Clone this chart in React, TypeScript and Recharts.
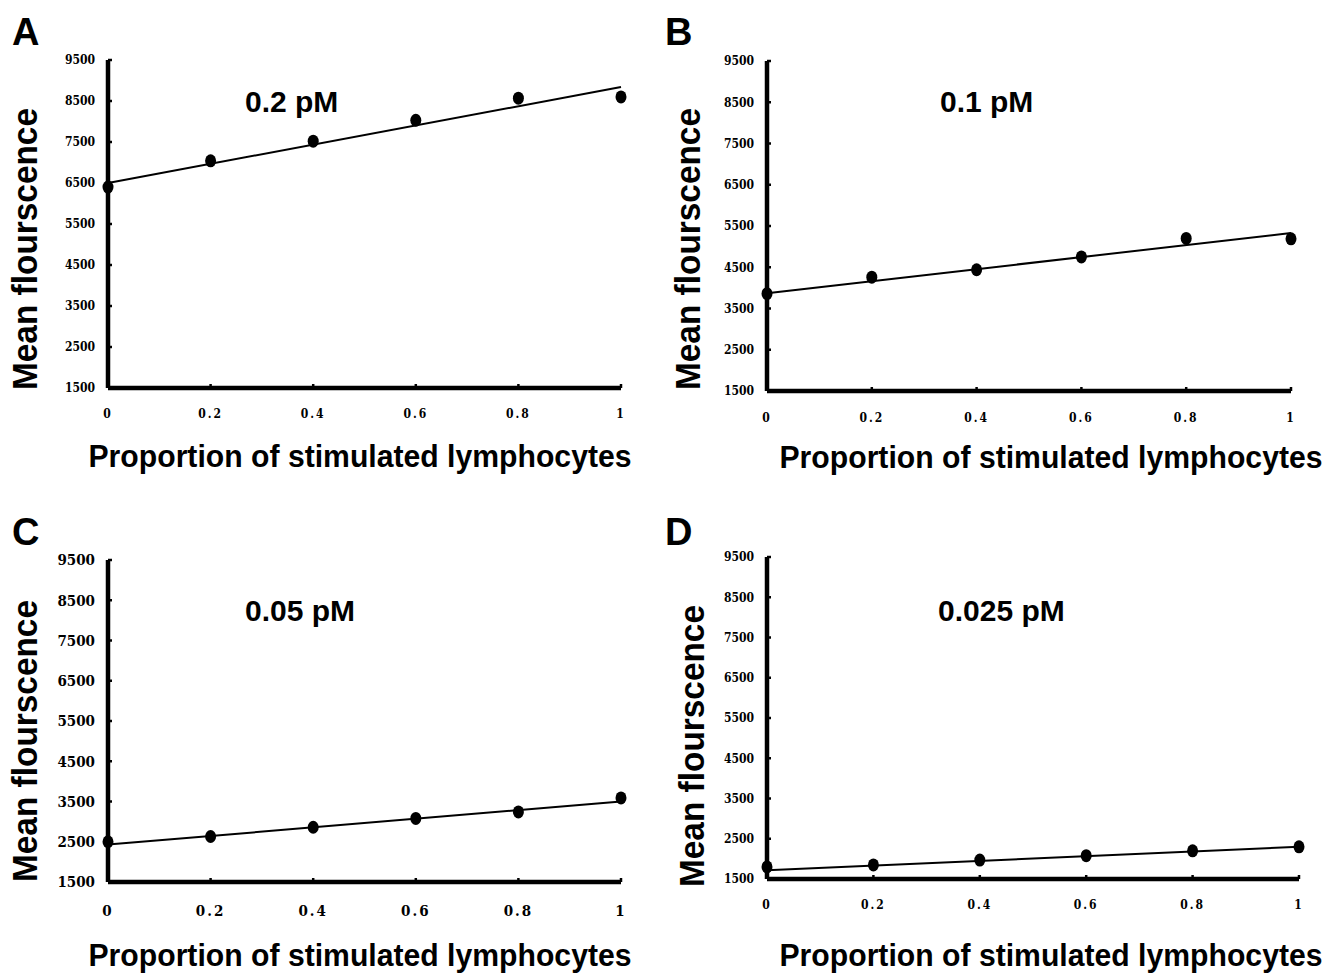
import React from 'react'
import { ComposedChart, XAxis, YAxis, Scatter, Line } from 'recharts'

// proportion of stimulated lymphocytes
const xValues = [0, 0.2, 0.4, 0.6, 0.8, 1]
const xTicks = [0, 0.2, 0.4, 0.6, 0.8, 1]
const yTicks = [1500, 2500, 3500, 4500, 5500, 6500, 7500, 8500, 9500]

// mean fluorescence
const series02 = [6400, 7040, 7520, 8030, 8570, 8600]
const series01 = [3860, 4260, 4440, 4750, 5200, 5190]
const series005 = [2500, 2630, 2860, 3080, 3240, 3590]
const series0025 = [1800, 1850, 1970, 2080, 2200, 2300]

// fitted line end values (at x = 0 and x = 1)
const trendX = [0, 1]
const trend02 = [6500, 8840]
const trend01 = [3870, 5330]
const trend005 = [2430, 3500]
const trend0025 = [1720, 2300]

const panelLetters = ['A', 'B', 'C', 'D']
const concLabels = ['0.2 pM', '0.1 pM', '0.05 pM', '0.025 pM']

type Panel = {
  letter: string
  conc: string
  values: number[]
  trend: number[]
  plot: { left: number; top: number; right: number; bottom: number }
  tickFont: number
  xTickGap: number
  letterPos: [number, number]
  concPos: [number, number]
  yLabel: [number, number]
  xLabel: [number, number]
}

const panels: Panel[] = [
  {
    letter: panelLetters[0], conc: concLabels[0], values: series02, trend: trend02,
    plot: { left: 108, top: 60, right: 621, bottom: 388 },
    tickFont: 12, xTickGap: 21, letterPos: [12, 45], concPos: [245, 112],
    yLabel: [37, 249], xLabel: [360, 467],
  },
  {
    letter: panelLetters[1], conc: concLabels[1], values: series01, trend: trend01,
    plot: { left: 767, top: 61, right: 1291, bottom: 391 },
    tickFont: 12, xTickGap: 22, letterPos: [665, 45], concPos: [940, 112],
    yLabel: [700, 249], xLabel: [1051, 468],
  },
  {
    letter: panelLetters[2], conc: concLabels[2], values: series005, trend: trend005,
    plot: { left: 108, top: 560, right: 621, bottom: 882 },
    tickFont: 15, xTickGap: 23, letterPos: [12, 545], concPos: [245, 621],
    yLabel: [37, 741], xLabel: [360, 966],
  },
  {
    letter: panelLetters[3], conc: concLabels[3], values: series0025, trend: trend0025,
    plot: { left: 767, top: 557, right: 1299, bottom: 879 },
    tickFont: 12, xTickGap: 21, letterPos: [665, 545], concPos: [938, 621],
    yLabel: [704, 746], xLabel: [1051, 966],
  },
]

const tickFamily = '"DejaVu Serif Condensed", "Liberation Serif", serif'
const labelFamily = '"Liberation Sans", Arial, sans-serif'

const Dot = (props: any) => (
  <ellipse cx={props.cx} cy={props.cy} rx={5.5} ry={6.5} fill="#000" />
)

function PanelChart({ p }: { p: Panel }) {
  const padL = 100
  const padT = 20
  const padR = 40
  const padB = 70
  const yAxisW = 60
  const xAxisH = 40
  const plotW = p.plot.right - p.plot.left
  const plotH = p.plot.bottom - p.plot.top
  const axisX = padL
  const axisY = padT + plotH
  const points = xValues.map((x, i) => ({ x, y: p.values[i] }))
  const line = trendX.map((x, i) => ({ x, y: p.trend[i] }))

  const YTick = (props: any) => (
    <g>
      <line x1={axisX} x2={axisX + 4} y1={props.y} y2={props.y} stroke="#000" strokeWidth={2.5} />
      <text
        x={axisX - 13}
        y={props.y}
        dy="0.36em"
        textAnchor="end"
        fontSize={p.tickFont}
        fontWeight={700}
        fontFamily={tickFamily}
        fill="#000"
      >
        {props.payload.value}
      </text>
    </g>
  )

  const XTick = (props: any) => (
    <g>
      <line x1={props.x} x2={props.x} y1={axisY} y2={axisY - 4} stroke="#000" strokeWidth={2.5} />
      <text
        x={props.x}
        y={axisY + p.xTickGap}
        dy="0.72em"
        textAnchor="middle"
        fontSize={p.tickFont}
        fontWeight={700}
        fontFamily={tickFamily}
        letterSpacing={2}
        fill="#000"
      >
        {String(props.payload.value)}
      </text>
    </g>
  )

  return (
    <div style={{ position: 'absolute', left: p.plot.left - padL, top: p.plot.top - padT }}>
      <ComposedChart
        width={plotW + padL + padR}
        height={plotH + padT + padB}
        margin={{ top: padT, left: padL - yAxisW, right: padR, bottom: padB - xAxisH }}
      >
        <XAxis
          type="number"
          dataKey="x"
          domain={[0, 1]}
          ticks={xTicks}
          interval={0}
          height={xAxisH}
          tick={XTick}
          tickLine={false}
          axisLine={{ stroke: '#000', strokeWidth: 4.5 }}
        />
        <YAxis
          type="number"
          domain={[1500, 9500]}
          ticks={yTicks}
          interval={0}
          width={yAxisW}
          tick={YTick}
          tickLine={false}
          axisLine={{ stroke: '#000', strokeWidth: 4.5 }}
        />
        <Line
          data={line}
          dataKey="y"
          type="linear"
          stroke="#000"
          strokeWidth={2}
          dot={false}
          activeDot={false}
          isAnimationActive={false}
        />
        <Scatter data={points} dataKey="y" shape={Dot} isAnimationActive={false} />
      </ComposedChart>
    </div>
  )
}

export default function App() {
  return (
    <div style={{ position: 'absolute', left: 0, top: 0, width: 1337, height: 973, background: '#fff' }}>
      {panels.map((p) => (
        <PanelChart key={p.letter} p={p} />
      ))}
      <svg
        width={1337}
        height={973}
        style={{ position: 'absolute', left: 0, top: 0, pointerEvents: 'none' }}
        fontFamily={labelFamily}
        fontWeight={700}
      >
        {panels.map((p) => (
          <g key={p.letter}>
            <text x={p.letterPos[0]} y={p.letterPos[1]} fontSize={38}>
              {p.letter}
            </text>
            <text x={p.concPos[0]} y={p.concPos[1]} fontSize={30}>
              {p.conc}
            </text>
            <text
              x={p.yLabel[0]}
              y={p.yLabel[1]}
              fontSize={35}
              textAnchor="middle"
              transform={`rotate(-90 ${p.yLabel[0]} ${p.yLabel[1]})`}
              textLength={282}
              lengthAdjust="spacingAndGlyphs"
            >
              Mean flourscence
            </text>
            <text
              x={p.xLabel[0]}
              y={p.xLabel[1]}
              fontSize={31}
              textAnchor="middle"
              textLength={543}
              lengthAdjust="spacingAndGlyphs"
            >
              Proportion of stimulated lymphocytes
            </text>
          </g>
        ))}
      </svg>
    </div>
  )
}
